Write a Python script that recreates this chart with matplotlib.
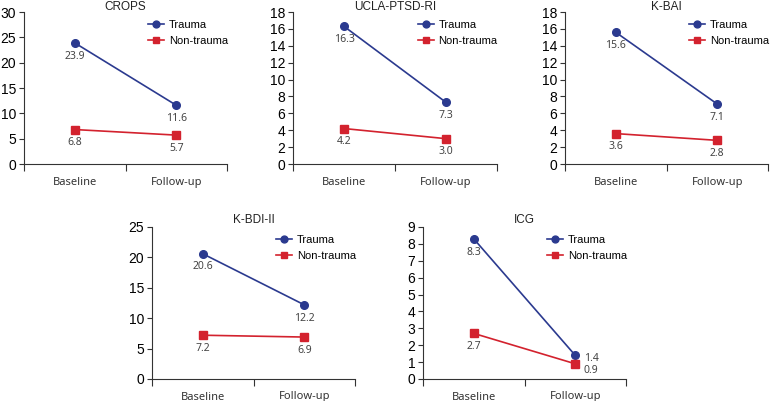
import matplotlib
matplotlib.use("Agg")
import matplotlib.pyplot as plt

categories = ["Baseline", "Follow-up"]
titles = ["CROPS", "UCLA-PTSD-RI", "K-BAI", "K-BDI-II", "ICG"]
trauma = [[23.9, 11.6], [16.3, 7.3], [15.6, 7.1], [20.6, 12.2], [8.3, 1.4]]
nontrauma = [[6.8, 5.7], [4.2, 3.0], [3.6, 2.8], [7.2, 6.9], [2.7, 0.9]]
ymax = [30, 18, 18, 25, 9]
ystep = [5, 2, 2, 5, 1]

W, H = 770, 401
rects_px = [(24, 12, 203, 152), (293, 12, 204, 152), (565, 12, 203, 152),
            (152, 227, 203, 152), (423, 227, 203, 152)]
title_off_px = [6, 6, 6, 7, 7]

BLUE = "#2b3a8f"
RED = "#d3222e"
LBL = "#444444"
plt.rcParams['font.family'] = ['Liberation Sans', 'DejaVu Sans']

fig = plt.figure(figsize=(W / 100, H / 100), dpi=100)

for i, (x, y, w, h) in enumerate(rects_px):
    ax = fig.add_axes([x / W, 1 - (y + h) / H, w / W, h / H])
    xs = list(range(len(categories)))
    ax.plot(xs, trauma[i], color=BLUE, marker='o', markersize=5.5, lw=1.2, label="Trauma")
    ax.plot(xs, nontrauma[i], color=RED, marker='s', markersize=5.5, lw=1.2, label="Non-trauma")
    for j in xs:
        if i == 4 and j == 1:
            ax.annotate(f"{trauma[i][j]:.1f}", (j, trauma[i][j]), xytext=(6, -2),
                        textcoords='offset points', ha='left', va='center',
                        fontsize=7.5, color=LBL, family=['Noto Sans', 'DejaVu Sans'])
            ax.annotate(f"{nontrauma[i][j]:.1f}", (j, nontrauma[i][j]), xytext=(6, -5),
                        textcoords='offset points', ha='left', va='center',
                        fontsize=7.5, color=LBL, family=['Noto Sans', 'DejaVu Sans'])
        else:
            ax.annotate(f"{trauma[i][j]:.1f}", (j, trauma[i][j]), xytext=(0, -9.5),
                        textcoords='offset points', ha='center', va='center',
                        fontsize=7.5, color=LBL, family=['Noto Sans', 'DejaVu Sans'])
            ax.annotate(f"{nontrauma[i][j]:.1f}", (j, nontrauma[i][j]), xytext=(0, -9.5),
                        textcoords='offset points', ha='center', va='center',
                        fontsize=7.5, color=LBL, family=['Noto Sans', 'DejaVu Sans'])
    ax.set_xlim(-0.5, 1.5)
    ax.set_ylim(0, ymax[i])
    ax.set_yticks(range(0, ymax[i] + 1, ystep[i]))
    ax.set_xticks(xs)
    ax.set_xticklabels(categories, family=['Noto Sans', 'DejaVu Sans'], fontsize=8, color="#333333")
    ax.set_xticks([-0.5, 0.5, 1.5], minor=True)
    ax.tick_params(axis='x', which='major', length=0, pad=9)
    ax.tick_params(axis='x', which='minor', length=5, width=0.8, color="#333333", direction='out')
    ax.tick_params(axis='y', length=3.5, width=0.8, color="#333333", labelsize=10, pad=2)
    for s in ['top', 'right']:
        ax.spines[s].set_visible(False)
    for s in ['left', 'bottom']:
        ax.spines[s].set_color("#333333")
        ax.spines[s].set_linewidth(0.8)
    ax.text(0.5, 1 + (title_off_px[i] - 0.5) / h, titles[i], transform=ax.transAxes,
            ha='center', va='center', fontsize=8.5, color="#222222")
    ax.legend(loc='upper left', bbox_to_anchor=(0.59, 0.975), frameon=False, fontsize=8,
              handlelength=1.45, handletextpad=0.4, labelspacing=0.55, borderaxespad=0,
              markerscale=0.9)

fig.savefig("out.png", dpi=100)
